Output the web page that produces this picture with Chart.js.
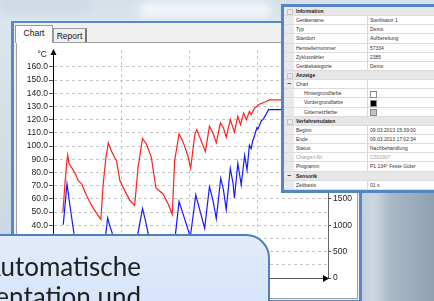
<!DOCTYPE html>
<html lang="de">
<head>
<meta charset="utf-8">
<title>Chart</title>
<script src="https://cdn.jsdelivr.net/npm/chart.js@4.4.1/dist/chart.umd.min.js"></script>
<style>
  html, body { margin: 0; padding: 0; }
  body {
    width: 434px; height: 301px; overflow: hidden; position: relative;
    font-family: "Liberation Sans", Arial, sans-serif;
    background: linear-gradient(180deg, #d6e0e9 0px, #dce5ed 22px, #c6d3df 301px);
  }
  .blur { position: absolute; filter: blur(5px); }
  #glow { left: 140px; top: 3px; width: 130px; height: 14px; background: #f4f7fa; }
  #glow2 { left: 0; top: 0; width: 90px; height: 12px; background: #cdd8e3; }
  #rightBg {
    left: 358px; top: 175px; width: 90px; height: 140px;
    background: linear-gradient(90deg, #b8c6d4 0, #d3dce5 16px, #aab9c8 30px, #93a4b6 70px, #8798ab 90px);
  }

  #win {
    position: absolute; left: 11px; top: 21px; width: 351px; height: 282px;
    box-sizing: border-box; border: 3px solid #5a88c4; border-top-width: 2px;
    background: #f0f0f0;
  }
  .tab {
    position: absolute; box-sizing: border-box; font-size: 8.5px; color: #111;
    border: 1px solid #9a9a9a; border-bottom: none; text-align: center;
  }
  #tabChart { left: 15px; top: 25px; width: 38px; height: 18px; background: #fbfbfb; line-height: 15px; z-index: 2; }
  #tabReport { left: 53px; top: 28px; width: 34px; height: 15px; background: #f0f0f0; line-height: 14px; border-right: 2px solid #7a7a7a; }
  #pane {
    position: absolute; left: 16px; top: 42px; width: 342px; height: 257px;
    box-sizing: border-box; border: 1px solid #a0a0a0; background: #fff;
  }
  #chart { position: absolute; left: 17px; top: 43px; }

  #props {
    position: absolute; left: 281px; top: 4px; width: 170px;
    border: 3px solid #5585c2; border-right: none; background: #fff;
    font-size: 5px; color: #333;
  }
  .row { position: relative; height: 9.15px; box-sizing: border-box; border-bottom: 1px solid #dcdcdc; line-height: 8.5px; white-space: nowrap; }
  .row::after { content: ""; position: absolute; left: 83px; top: 0; width: 1px; height: 100%; background: #d8d8d8; }
  .row.cat::after { display: none; }
  .g { position: absolute; left: 0; top: 0; width: 10px; height: 100%; background: #e9e9e9; text-align: center; font-weight: bold; font-size: 7px; line-height: 8px; color: #333; }
  .n { position: absolute; left: 12px; top: 0; }
  .v { position: absolute; left: 86px; top: 0; }
  .cat { background: #e6e6e6; font-weight: bold; color: #222; }
  .sub .n { left: 20px; }
  .dim { color: #9a9a9a; }
  .box { position: absolute; left: 2.5px; top: 2px; width: 4px; height: 4px; border: 1px solid #c4c4c4; }
  .sw { position: absolute; left: 86px; top: 1.5px; width: 5px; height: 5px; border: 1px solid #8a8a8a; }

  #callout {
    position: absolute; left: -140px; top: 234px; width: 410px; height: 100px;
    box-sizing: border-box; border: 2px solid #4f7fc0; border-radius: 24px;
    background: linear-gradient(180deg, #e2ebfb 0%, #d2e1f8 100%);
  }
  #callText {
    position: absolute; left: -220px; top: 251px; width: 361px; text-align: right;
    font-family: Lato, "Open Sans", sans-serif; font-size: 26px; line-height: 30px;
    color: #1e1e1e; white-space: nowrap;
  }
</style>
</head>
<body>
<div id="glow2" class="blur"></div>
<div id="glow" class="blur"></div>
<div id="rightBg" class="blur"></div>

<div id="win"></div>
<div id="tabReport" class="tab">Report</div>
<div id="tabChart" class="tab">Chart</div>
<div id="pane"></div>
<canvas id="chart" width="341" height="255"></canvas>

<div id="props">
  <div class="row cat"><span class="g"><i class="box"></i></span><span class="n">Information</span></div>
  <div class="row"><span class="g"></span><span class="n">Gerätename</span><span class="v">Sterilisator 1</span></div>
  <div class="row"><span class="g"></span><span class="n">Typ</span><span class="v">Demo</span></div>
  <div class="row"><span class="g"></span><span class="n">Standort</span><span class="v">Aufbereitung</span></div>
  <div class="row"><span class="g"></span><span class="n">Herstellernummer</span><span class="v">57334</span></div>
  <div class="row"><span class="g"></span><span class="n">Zykluszähler</span><span class="v">2385</span></div>
  <div class="row"><span class="g"></span><span class="n">Gerätekategorie</span><span class="v">Demo</span></div>
  <div class="row cat"><span class="g"><i class="box"></i></span><span class="n">Anzeige</span></div>
  <div class="row"><span class="g">−</span><span class="n">Chart</span></div>
  <div class="row sub"><span class="g"></span><span class="n">Hintergrundfarbe</span><i class="sw" style="background:#fff"></i></div>
  <div class="row sub"><span class="g"></span><span class="n">Vordergrundfarbe</span><i class="sw" style="background:#000"></i></div>
  <div class="row sub"><span class="g"></span><span class="n">Gitternetzfarbe</span><i class="sw" style="background:#c0c0c0"></i></div>
  <div class="row cat"><span class="g"><i class="box"></i></span><span class="n">Verfahrensdaten</span></div>
  <div class="row"><span class="g"></span><span class="n">Beginn</span><span class="v">09.03.2013 15:39:00</span></div>
  <div class="row"><span class="g"></span><span class="n">Ende</span><span class="v">09.03.2013 17:02:34</span></div>
  <div class="row"><span class="g"></span><span class="n">Status</span><span class="v">Nachbehandlung</span></div>
  <div class="row dim"><span class="g"></span><span class="n">Chargen-Nr.</span><span class="v">C001907</span></div>
  <div class="row"><span class="g"></span><span class="n">Programm</span><span class="v">P1 134° Feste Güter</span></div>
  <div class="row cat"><span class="g">−</span><span class="n">Sensorik</span></div>
  <div class="row"><span class="g"></span><span class="n">Zeitbasis</span><span class="v">01 s</span></div>
</div>

<div id="callout"></div>
<div id="callText">Automatische<br>Dokumentation und</div>

<script>
// minutes since start of the run
const redTime = [2.9, 3.5, 4.0, 4.3, 4.7, 5.5, 6.4, 7.4, 8.4, 9.8,
  11.3, 12.8, 14.0, 14.7, 15.5, 16.2, 17.1, 18.6, 19.6, 21.0,
  22.5, 23.9, 24.9, 26.2, 27.4, 28.8, 30.1, 32.2, 33.7, 34.9,
  35.6, 36.9, 38.0, 39.5, 40.3, 41.5, 42.1, 43.4, 44.6, 45.8,
  46.8, 47.8, 49.0, 49.9, 50.7, 51.9, 53.1, 54.1, 54.9, 55.8,
  56.6, 57.5, 58.0, 59.0, 60.4, 62.4, 63.4, 67.0, 78.0];
// temperature in °C
const redTemp = [49.7, 71.5, 86.5, 93.2, 86.5, 83.5, 79.7, 73.7, 71.3, 62.5,
  55.0, 48.8, 44.5, 71.5, 91.2, 102.5, 96.2, 88.7, 73.7, 66.2,
  58.7, 55.0, 83.7, 105.8, 101.2, 91.2, 68.5, 63.7, 56.2, 48.2,
  88.7, 109.2, 103.7, 92.5, 83.2, 108.7, 112.5, 103.7, 95.7, 115.0,
  110.0, 102.5, 117.5, 113.7, 106.7, 120.0, 110.7, 122.5, 116.2, 125.0,
  120.0, 126.2, 123.7, 128.7, 131.7, 133.7, 135.0, 135.0, 135.0];

const blueTime = [3.0, 3.8, 4.1, 5.0, 6.1, 6.9, 14.9, 15.5, 16.0, 16.6,
  17.3, 18.3, 24.4, 24.9, 26.2, 27.0, 27.8, 28.8, 35.2, 35.9,
  36.9, 38.0, 39.8, 40.1, 41.8, 42.7, 44.4, 45.8, 46.8, 47.8,
  49.1, 49.9, 50.7, 51.9, 52.7, 53.1, 54.1, 55.1, 56.1, 56.8,
  57.5, 58.0, 58.5, 59.0, 59.7, 60.0, 61.0, 61.6, 62.4, 63.1,
  67.0, 78.0];
// pressure in mbar
const bluePress = [1010, 1575, 1780, 1355, 860, 300, 250, 860, 1140, 995,
  860, 300, 250, 860, 1315, 1105, 860, 300, 250, 860,
  1450, 1230, 860, 730, 1575, 1355, 940, 1730, 1480, 1125,
  1890, 1670, 1295, 2075, 1795, 1515, 2170, 1765, 2325, 2045,
  2515, 2450, 2605, 2700, 2850, 2825, 2980, 3015, 3105, 3190,
  3190, 3190];

const tempTicks = [0, 10, 20, 30, 40, 50, 60, 70, 80, 90, 100, 110, 120, 130, 140, 150, 160];
const pressTicks = [0, 500, 1000, 1500, 2000, 2500, 3000, 3500, 4000];
const timeTicks = [0, 20, 40, 60];
const timeLabels = ['15:40', '16:00', '16:20', '16:40'];

const TEMP_MAX = 172.7;
const PRESS_PER_DEG = 25;

const toPoints = (xs, ys) => xs.map((x, i) => ({ x: x, y: ys[i] }));

const tickFont = { family: 'Liberation Sans', size: 8.5 };
const gridColor = '#c6c6c6';

// arrow heads on the axes and the unit label
const axisDecor = {
  id: 'axisDecor',
  afterDraw(chart) {
    const { ctx, chartArea: a } = chart;
    ctx.save();
    ctx.fillStyle = '#000';
    ctx.beginPath();
    ctx.moveTo(a.left + 0.5, a.top - 1);
    ctx.lineTo(a.left - 2.5, a.top + 5);
    ctx.lineTo(a.left + 3.5, a.top + 5);
    ctx.closePath();
    ctx.fill();

    ctx.beginPath();
    ctx.moveTo(a.right + 1, a.bottom + 0.5);
    ctx.lineTo(a.right - 5, a.bottom - 3);
    ctx.lineTo(a.right - 5, a.bottom + 4);
    ctx.closePath();
    ctx.fill();

    ctx.font = '8.5px "Liberation Sans"';
    ctx.fillStyle = '#222';
    ctx.textAlign = 'right';
    ctx.fillText('°C', a.left - 6, a.top + 7);
    ctx.restore();
  }
};

new Chart(document.getElementById('chart'), {
  type: 'line',
  data: {
    datasets: [
      {
        label: 'Temperatur',
        data: toPoints(redTime, redTemp),
        borderColor: '#ff1f1f',
        borderWidth: 1.2,
        pointRadius: 0,
        yAxisID: 'yT'
      },
      {
        label: 'Druck',
        data: toPoints(blueTime, bluePress),
        borderColor: '#1818ff',
        borderWidth: 1.2,
        pointRadius: 0,
        yAxisID: 'yP'
      }
    ]
  },
  options: {
    responsive: false,
    animation: false,
    devicePixelRatio: 1,
    layout: { padding: { top: 5, left: 0, right: 0, bottom: 0 } },
    plugins: { legend: { display: false }, tooltip: { enabled: false } },
    scales: {
      x: {
        type: 'linear',
        min: 0,
        max: 80.5,
        afterBuildTicks: s => { s.ticks = timeTicks.map(v => ({ value: v })); },
        afterFit: s => { s.height = 20; },
        ticks: {
          callback: (v, i) => timeLabels[i],
          font: tickFont, color: '#222', maxRotation: 0, padding: 2
        },
        grid: { color: gridColor, tickLength: 4, tickColor: '#666' },
        border: { color: '#555', width: 1, dash: [3, 3] }
      },
      yT: {
        position: 'left',
        min: 0,
        max: TEMP_MAX,
        afterBuildTicks: s => { s.ticks = tempTicks.map(v => ({ value: v })); },
        afterFit: s => { s.width = 36; },
        ticks: { callback: v => v.toFixed(1), font: tickFont, color: '#222', padding: 1 },
        grid: { color: gridColor, tickLength: 4, tickColor: '#555' },
        border: { color: '#000', width: 1, dash: [3, 3] }
      },
      yP: {
        position: 'right',
        min: 0,
        max: TEMP_MAX * PRESS_PER_DEG,
        afterBuildTicks: s => { s.ticks = pressTicks.map(v => ({ value: v })); },
        afterFit: s => { s.width = 30; },
        ticks: { callback: v => String(v), font: tickFont, color: '#222', padding: 2 },
        grid: { drawOnChartArea: false, tickLength: 3, tickColor: '#555' },
        border: { color: '#666', width: 1 }
      }
    }
  },
  plugins: [axisDecor]
});
</script>
</body>
</html>
